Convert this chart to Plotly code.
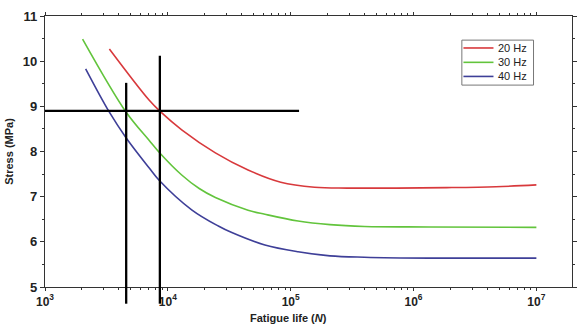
import plotly.graph_objects as go

# ---- data ----
N_20 = [3342, 7031, 8790, 12970, 24380, 44980, 82990, 156300, 288400, 724400, 1862000, 4677000, 1.0e7]
S_20 = [10.27, 9.14, 8.87, 8.48, 7.97, 7.59, 7.32, 7.21, 7.19, 7.19, 7.20, 7.22, 7.26]

N_30 = [2023, 4581, 7031, 8453, 12970, 18000, 24380, 44980, 61660, 114800, 208900, 398100, 1349000, 1.0e7]
S_30 = [10.49, 8.87, 8.25, 7.99, 7.48, 7.18, 6.98, 6.70, 6.61, 6.46, 6.38, 6.34, 6.33, 6.32]

N_40 = [2143, 3342, 4581, 7031, 8453, 15630, 25760, 32810, 61660, 114800, 208900, 398100, 1349000, 1.0e7]
S_40 = [9.83, 8.87, 8.30, 7.64, 7.37, 6.71, 6.35, 6.21, 5.93, 5.78, 5.69, 5.66, 5.64, 5.64]

series_names = ["20 Hz", "30 Hz", "40 Hz"]
series_colors = ["#d8393c", "#62c43c", "#3e3f98"]

# reference (guide) lines
h_stress = 8.9
h_N = [1000, 117000]
v_N = [4580, 8610]
v_top = [9.52, 10.12]
v_bottom = 4.63

x_ticks = [1e3, 1e4, 1e5, 1e6, 1e7]
x_ticktext = ["<b>10<sup>3</sup></b>", "<b>10<sup>4</sup></b>", "<b>10<sup>5</sup></b>",
              "<b>10<sup>6</sup></b>", "<b>10<sup>7</sup></b>"]
y_ticks = [5, 6, 7, 8, 9, 10, 11]
y_ticktext = ["<b>5</b>", "<b>6</b>", "<b>7</b>", "<b>8</b>", "<b>9</b>", "<b>10</b>", "<b>11</b>"]
y_range = [5, 11]
x_range_log = [3, 7.29]

FONT = "Liberation Sans, Arial, sans-serif"

fig = go.Figure()
for N, S, name, col in zip([N_20, N_30, N_40], [S_20, S_30, S_40], series_names, series_colors):
    fig.add_trace(go.Scatter(x=N, y=S, mode="lines", name=name, showlegend=False,
                             line=dict(color=col, width=1.6, shape="spline", smoothing=1.0)))

fig.add_trace(go.Scatter(x=h_N, y=[h_stress, h_stress], mode="lines", showlegend=False,
                         line=dict(color="black", width=2.3)))

def to_paper(v):
    return (v - y_range[0]) / (y_range[1] - y_range[0])

for xn, top in zip(v_N, v_top):
    fig.add_shape(type="line", xref="x", yref="paper", x0=xn, x1=xn,
                  y0=to_paper(v_bottom), y1=to_paper(top),
                  line=dict(color="black", width=2.3), layer="above")

# ---- compact legend box (drawn manually to match tight row spacing) ----
leg_x0, leg_x1, leg_ytop, leg_ybot = 0.791, 0.927, 0.911, 0.745
row_y = [0.882, 0.829, 0.777]
fig.add_shape(type="rect", xref="paper", yref="paper", x0=leg_x0, x1=leg_x1, y0=leg_ybot, y1=leg_ytop,
              line=dict(color="#777", width=1), fillcolor="white", layer="above")
for ry, name, col in zip(row_y, series_names, series_colors):
    fig.add_shape(type="line", xref="paper", yref="paper", x0=0.794, x1=0.851, y0=ry, y1=ry,
                  line=dict(color=col, width=1.6), layer="above")
    fig.add_annotation(text=name, xref="paper", yref="paper", x=0.855, y=ry, xanchor="left",
                       yanchor="middle", showarrow=False,
                       font=dict(family=FONT, size=11, color="#222"))

fig.update_xaxes(type="log", range=x_range_log, tickvals=x_ticks, ticktext=x_ticktext,
                 showgrid=False, zeroline=False, showline=True, linecolor="#333", linewidth=1.2,
                 mirror="allticks", ticks="outside", ticklen=3, tickcolor="#333", tickwidth=1.2,
                 minor=dict(ticks="outside", ticklen=2, tickcolor="#333", dtick="D1", showgrid=False),
                 tickfont=dict(family=FONT, size=12, color="#222"))
fig.update_yaxes(range=y_range, tickvals=y_ticks, ticktext=y_ticktext, showgrid=False, zeroline=False,
                 showline=True, linecolor="#333", linewidth=1.2, mirror="allticks",
                 ticks="outside", ticklen=4, tickcolor="#333", tickwidth=1.2,
                 minor=dict(ticks="outside", ticklen=2, tickcolor="#333", dtick=0.5, showgrid=False),
                 tickfont=dict(family=FONT, size=13, color="#222"),
                 title=dict(text="<b>Stress (MPa)</b>", font=dict(family=FONT, size=11, color="#222"), standoff=6))

fig.add_annotation(text="<b>Fatigue life (<i>N</i>)</b>", xref="paper", yref="paper",
                   x=0.462, y=-0.085, yanchor="top", showarrow=False,
                   font=dict(family=FONT, size=11, color="#222"))

fig.update_layout(
    width=580, height=325,
    margin=dict(l=45, r=3, t=16, b=38),
    plot_bgcolor="white", paper_bgcolor="white",
    font=dict(family=FONT, color="#222"),
    showlegend=False,
)

fig.write_html("out.html")
